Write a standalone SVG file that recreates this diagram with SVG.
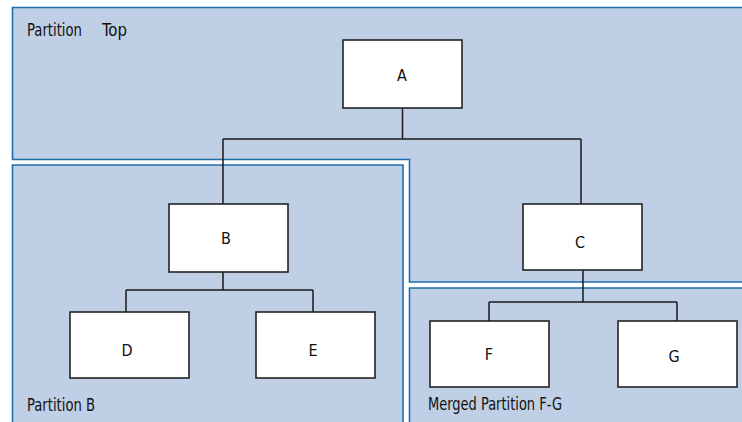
<svg xmlns="http://www.w3.org/2000/svg" width="742" height="422" viewBox="0 0 742 422">
<style>
.part{fill:#bfcfe5;stroke:#1f6dab;stroke-width:1.6}
.node{fill:#ffffff;stroke:#222222;stroke-width:1.6}
.conn{fill:none;stroke:#1a1a1a;stroke-width:1.5}
text{font-family:"DejaVu Sans Condensed","Liberation Sans Narrow","Liberation Sans",sans-serif;font-size:17px;fill:#111111}
.lbl{text-anchor:middle;dominant-baseline:central;font-size:16px}
</style>
<rect width="742" height="422" fill="#ffffff"/>
<g id="partition-top">
<path class="part" d="M12.5,7.5 H745 V282 H409.5 V159.5 H12.5 Z"/>
<text x="27" y="36" textLength="55" lengthAdjust="spacingAndGlyphs">Partition</text>
<text x="102" y="36" textLength="25" lengthAdjust="spacingAndGlyphs">Top</text>
</g>
<g id="partition-b">
<path class="part" d="M12.5,165 H403 V426 H12.5 Z"/>
<text x="27" y="411" textLength="68" lengthAdjust="spacingAndGlyphs">Partition B</text>
</g>
<g id="partition-fg">
<path class="part" d="M409.5,288 H745 V426 H409.5 Z"/>
<text x="428" y="410" textLength="134" lengthAdjust="spacingAndGlyphs">Merged Partition F-G</text>
</g>
<g id="connectors">
<path class="conn" d="M402.5,108 V139 M223,139 H581 M223,139 V204 M581,139 V204"/>
<path class="conn" d="M223,272 V290 M126,290 H313 M126,290 V312 M313,290 V312"/>
<path class="conn" d="M583,270 V302 M489,302 H677 M489,302 V321 M677,302 V321"/>
</g>
<g id="node-a"><rect class="node" x="343" y="40" width="119" height="68"/><text class="lbl" x="402" y="75">A</text></g>
<g id="node-b"><rect class="node" x="169" y="204" width="119" height="68"/><text class="lbl" x="226" y="238">B</text></g>
<g id="node-c"><rect class="node" x="523" y="204" width="119" height="66"/><text class="lbl" x="580" y="242">C</text></g>
<g id="node-d"><rect class="node" x="70" y="312" width="119" height="66"/><text class="lbl" x="127" y="350">D</text></g>
<g id="node-e"><rect class="node" x="256" y="312" width="119" height="66"/><text class="lbl" x="313" y="350">E</text></g>
<g id="node-f"><rect class="node" x="430" y="321" width="119" height="66"/><text class="lbl" x="489" y="354">F</text></g>
<g id="node-g"><rect class="node" x="618" y="321" width="119" height="66"/><text class="lbl" x="674" y="356">G</text></g>
</svg>
